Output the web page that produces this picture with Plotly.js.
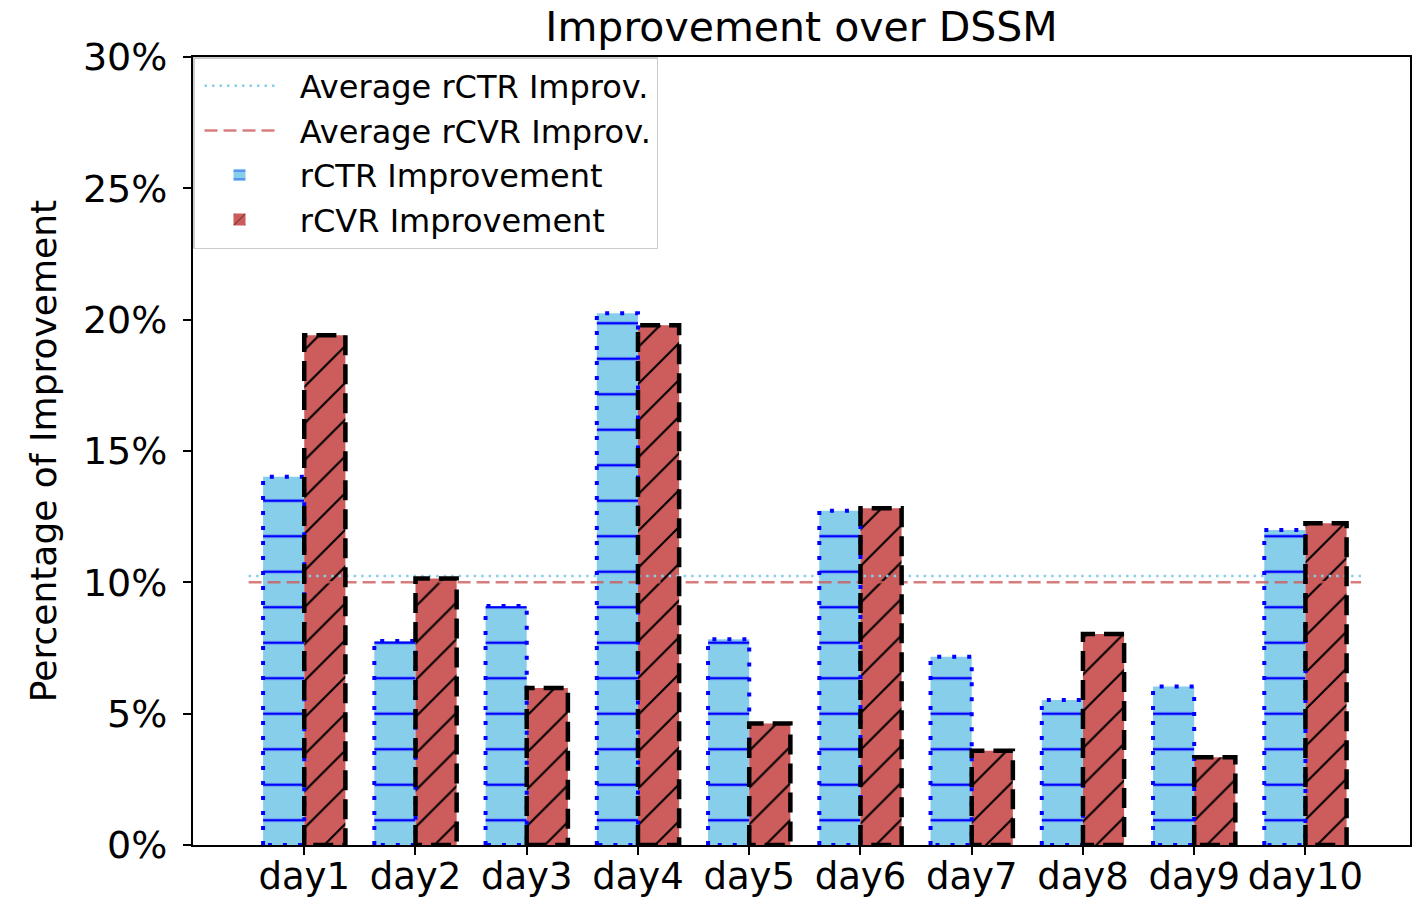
<!DOCTYPE html>
<html><head><meta charset="utf-8">
<script src="https://cdn.plot.ly/plotly-3.0.1.min.js"></script>
<style>html,body{margin:0;padding:0;background:#fff}#chart{width:1417px;height:898px}</style>
</head><body><div id="chart"></div>
<script>
const days = ['day1','day2','day3','day4','day5','day6','day7','day8','day9','day10'];
const rctrImprovement = [14.02, 7.77, 9.10, 20.24, 7.83, 12.73, 7.17, 5.52, 6.03, 11.99];
const rcvrImprovement = [19.41, 10.15, 5.98, 19.79, 4.63, 12.82, 3.59, 8.03, 3.34, 12.25];
const yTicks = [0, 5, 10, 15, 20, 25, 30];

const mean = a => a.reduce((s, v) => s + v, 0) / a.length;
const avgCTR = mean(rctrImprovement);
const avgCVR = mean(rcvrImprovement);

const BAR_W = 0.37;
const FONT = 'DejaVu Sans, sans-serif';
const PAD = '\u00a0\u00a0';
const pos = days.map((_, i) => i);
const lineX = [pos[0] - 0.5, pos[pos.length - 1] + 0.5];

function outline(vals, offset) {
  const xs = [], ys = [];
  vals.forEach((v, i) => {
    const x0 = pos[i] + offset, x1 = x0 + BAR_W;
    xs.push(x0, x0, x1, x1, x0, null);
    ys.push(0, v, v, 0, 0, null);
  });
  return {x: xs, y: ys};
}
const oCTR = outline(rctrImprovement, -BAR_W);
const oCVR = outline(rcvrImprovement, 0);

const traces = [
  {type: 'scatter', mode: 'lines', name: PAD + 'Average rCTR Improv.', x: lineX, y: [avgCTR, avgCTR],
   line: {color: '#87CEEB', width: 2.5, dash: '2.5px,5px'}, hoverinfo: 'skip'},
  {type: 'scatter', mode: 'lines', name: PAD + 'Average rCVR Improv.', x: lineX, y: [avgCVR, avgCVR],
   line: {color: 'rgba(205,92,92,0.8)', width: 2.5, dash: '13px,6px'}, hoverinfo: 'skip'},
  {type: 'bar', name: PAD + 'rCTR Improvement', x: pos, y: rctrImprovement, offset: -BAR_W, width: BAR_W,
   marker: {color: '#87CEEB', line: {width: 0},
            pattern: {shape: '-', size: 35.5, solidity: 0.075, fgcolor: '#0000ff', bgcolor: '#87CEEB', fillmode: 'replace'}}},
  {type: 'bar', name: PAD + 'rCVR Improvement', x: pos, y: rcvrImprovement, offset: 0, width: BAR_W,
   marker: {color: '#CD5C5C', line: {width: 0},
            pattern: {shape: '/', size: 26, solidity: 0.08, fgcolor: '#000000', bgcolor: '#CD5C5C', fillmode: 'replace'}}},
  {type: 'scatter', mode: 'lines', x: oCTR.x, y: oCTR.y, showlegend: false, hoverinfo: 'skip',
   line: {color: '#0000ff', width: 4, dash: '4px,11px'}},
  {type: 'scatter', mode: 'lines', x: oCVR.x, y: oCVR.y, showlegend: false, hoverinfo: 'skip',
   line: {color: '#000000', width: 4.5, dash: '20px,9px'}}
];

const layout = {
  width: 1417, height: 898,
  margin: {l: 193, r: 7, t: 57, b: 53},
  paper_bgcolor: '#ffffff', plot_bgcolor: '#ffffff',
  font: {family: FONT, color: '#000000'},
  barmode: 'overlay',
  title: {text: 'Improvement over DSSM', font: {family: FONT, size: 41, color: '#000'},
          x: 0.5, xref: 'paper', xanchor: 'center', y: 1 - 27 / 898, yref: 'container', yanchor: 'middle'},
  xaxis: {type: 'linear', range: [-1.0, 9.94], tickmode: 'array', tickvals: pos, ticktext: days,
          tickangle: 0, ticks: 'outside', ticklen: 8, tickwidth: 2, tickcolor: '#000', ticklabelstandoff: -10,
          showline: true, linecolor: '#000', linewidth: 2, mirror: true,
          showgrid: false, zeroline: false, tickfont: {family: FONT, size: 37, color: '#000'}},
  yaxis: {range: [0, 30], tickmode: 'array', tickvals: yTicks, ticktext: yTicks.map(v => v + '%'),
          ticks: 'outside', ticklen: 8, tickwidth: 2, tickcolor: '#000', ticklabelstandoff: 8,
          showline: true, linecolor: '#000', linewidth: 2, mirror: true,
          showgrid: false, zeroline: false, tickfont: {family: FONT, size: 38, color: '#000'},
          title: {text: 'Percentage of Improvement', font: {family: FONT, size: 36, color: '#000'}, standoff: 15}},
  legend: {x: 0, y: 1, xanchor: 'left', yanchor: 'top', xref: 'paper', yref: 'paper',
           bgcolor: 'rgba(255,255,255,0.85)', bordercolor: '#cccccc', borderwidth: 1.5,
           font: {family: FONT, size: 32, color: '#000'}, itemwidth: 70, indentation: 5, traceorder: 'normal'},
  showlegend: true
};

Plotly.newPlot('chart', traces, layout, {displayModeBar: false, staticPlot: true});
</script>
</body></html>
